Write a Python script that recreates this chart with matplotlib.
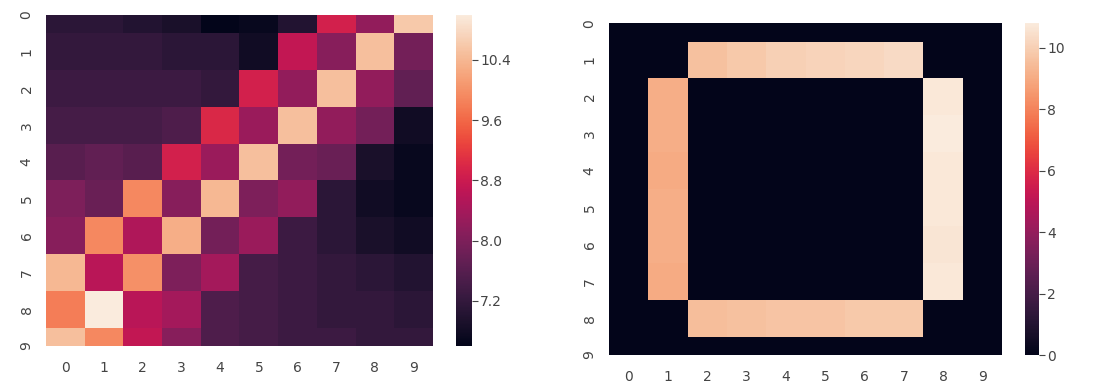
import matplotlib
matplotlib.use("Agg")
import matplotlib.pyplot as plt
from matplotlib.ticker import MultipleLocator
import seaborn as sns
import numpy as np

# left panel: 10x10 values
LEFT = np.array([
    [7.1, 7.1, 7.0, 6.9, 6.6, 6.7, 7.0, 8.9, 8.2, 10.6],
    [7.2, 7.2, 7.2, 7.1, 7.1, 6.8, 8.7, 8.1, 10.5, 7.9],
    [7.3, 7.3, 7.3, 7.3, 7.2, 8.9, 8.2, 10.5, 8.2, 7.7],
    [7.4, 7.4, 7.4, 7.5, 9.0, 8.3, 10.5, 8.2, 7.9, 6.8],
    [7.6, 7.7, 7.6, 8.9, 8.3, 10.5, 7.9, 7.8, 6.9, 6.7],
    [8.0, 7.8, 9.9, 8.1, 10.4, 8.0, 8.2, 7.1, 6.8, 6.7],
    [8.1, 9.9, 8.5, 10.3, 7.9, 8.3, 7.3, 7.1, 6.9, 6.8],
    [10.4, 8.6, 10.0, 8.0, 8.4, 7.4, 7.3, 7.2, 7.1, 7.0],
    [9.8, 11.0, 8.6, 8.4, 7.5, 7.4, 7.3, 7.2, 7.2, 7.1],
    [10.5, 9.9, 8.7, 8.1, 7.5, 7.4, 7.3, 7.3, 7.2, 7.2],
])

# right panel: square frame
TOP_ROW = [9.6, 9.8, 10.0, 10.1, 10.2, 10.3]
BOTTOM_ROW = [9.5, 9.6, 9.7, 9.7, 9.8, 9.8]
LEFT_COL = [9.1, 9.1, 9.0, 9.1, 9.1, 9.0]
RIGHT_COL = [10.7, 10.8, 10.7, 10.7, 10.6, 10.7]

RIGHT = np.zeros((10, 10))
RIGHT[1, 2:8] = TOP_ROW
RIGHT[8, 2:8] = BOTTOM_ROW
RIGHT[2:8, 1] = LEFT_COL
RIGHT[2:8, 8] = RIGHT_COL

TEXT = "#444444"

fig = plt.figure(figsize=(10.96, 3.90), dpi=100)

panels = [
    (LEFT, [0.042, 0.113, 0.353, 0.849], [0.416, 0.113, 0.0146, 0.849], 0.8),
    (RIGHT, [0.5557, 0.0897, 0.3586, 0.851], [0.935, 0.0897, 0.0128, 0.851], 2),
]

for data, ax_pos, cb_pos, step in panels:
    ax = fig.add_axes(ax_pos)
    cax = fig.add_axes(cb_pos)
    sns.heatmap(data, ax=ax, cbar_ax=cax, cmap="rocket")
    # half of the first and last row are cut off, as in the original
    ax.set_ylim(9.5, 0.5)
    ax.tick_params(axis="both", length=0, labelsize=10, colors=TEXT)
    ax.tick_params(axis="y", pad=9)
    ax.tick_params(axis="x", pad=11)
    plt.setp(ax.get_yticklabels(), rotation=90, va="center")
    cax.yaxis.set_major_locator(MultipleLocator(step))
    cax.tick_params(length=4, width=0.8, labelsize=10, colors=TEXT, pad=2)
    for s in cax.spines.values():
        s.set_visible(False)

plt.savefig("out.png", dpi=100)
plt.close()
